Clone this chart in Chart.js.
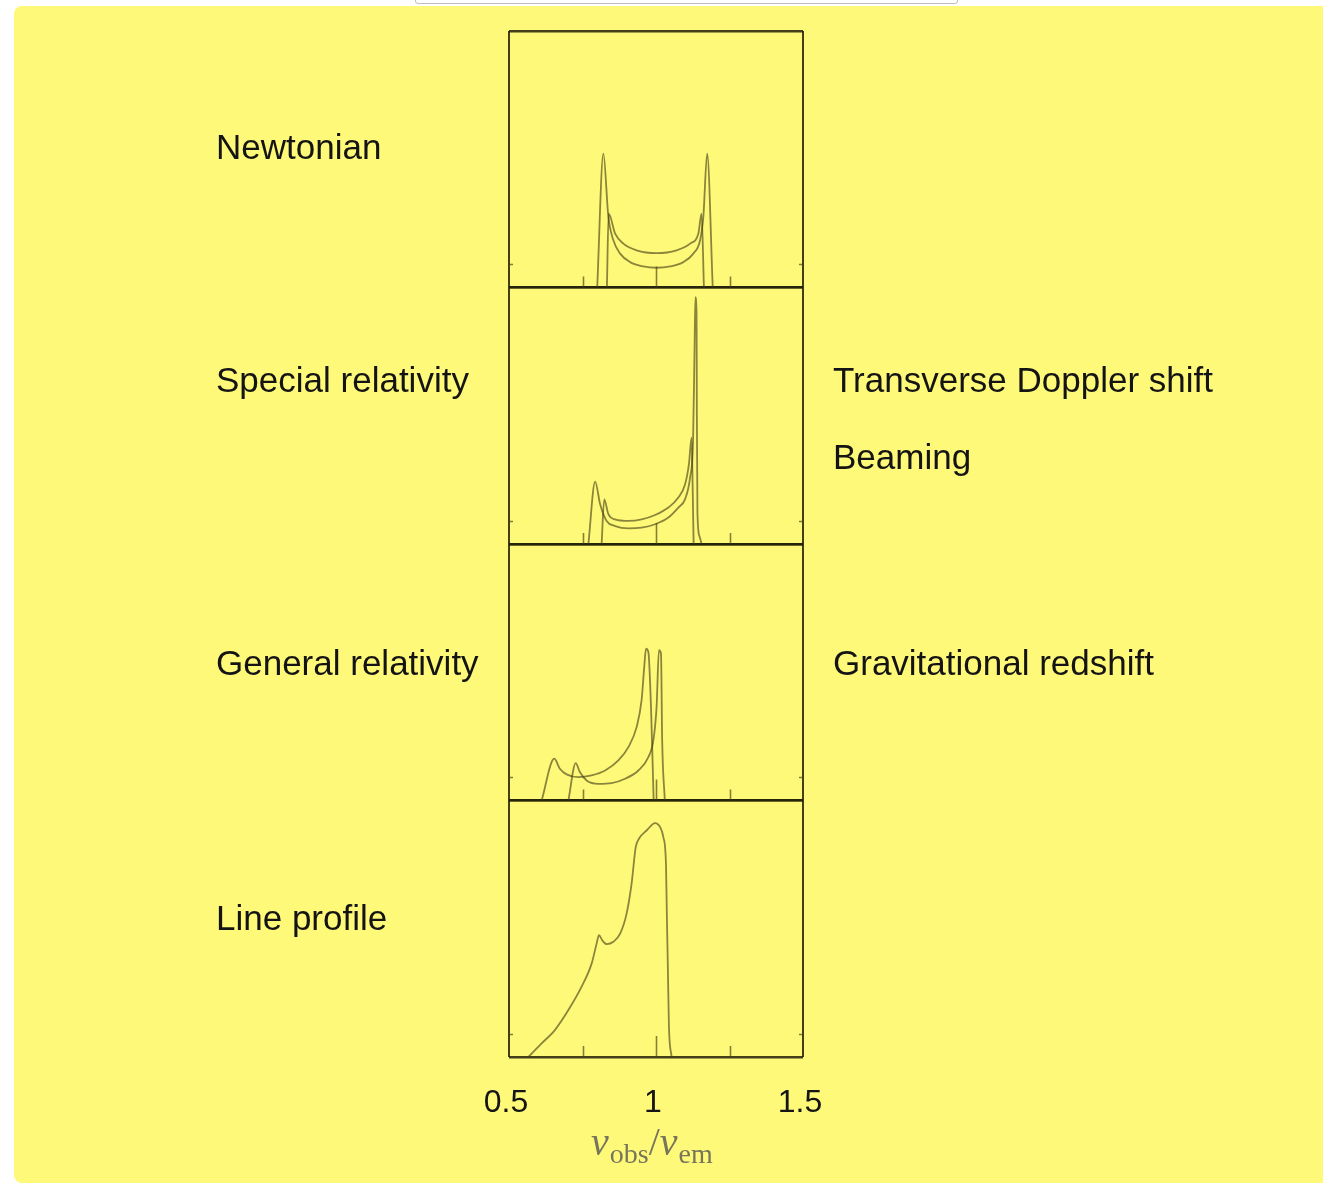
<!DOCTYPE html>
<html lang="en">
<head>
    <meta charset="UTF-8">
    <title>Disk line profiles</title>
    <script src="https://cdn.jsdelivr.net/npm/chart.js"></script>
    <style>
        * {
            box-sizing: border-box;
            margin: 0;
            padding: 0;
        }
        body {
            background: #ffffff;
            width: 1323px;
            height: 1186px;
            position: relative;
            overflow: hidden;
            font-family: 'Liberation Sans', Arial, sans-serif;
        }
        .sheet {
            position: absolute;
            left: 14px;
            top: 6px;
            width: 1309px;
            height: 1177px;
            background: #fff97a;
            border-radius: 8px 0 0 8px;
        }
        .tab {
            position: absolute;
            left: 415px;
            top: -8px;
            width: 543px;
            height: 12px;
            background: #fff;
            border: 1px solid #bdbdbd;
            border-radius: 3px;
        }
        #chart {
            position: absolute;
            left: 0;
            top: 0;
        }
        .label {
            position: absolute;
            font-size: 35px;
            line-height: 35px;
            color: #141414;
            white-space: nowrap;
        }
        .axis-title {
            position: absolute;
            left: 591px;
            top: 1122px;
            font-family: 'Liberation Serif', 'Times New Roman', serif;
            font-size: 40px;
            line-height: 40px;
            color: #77755a;
            white-space: nowrap;
        }
        .axis-title i { font-style: italic; }
        .axis-title .sub {
            font-size: 28px;
            position: relative;
            top: 8px;
            margin-left: 1px;
        }
    </style>
</head>
<body>
    <div class="sheet"></div>
    <div class="tab"></div>
    <canvas id="chart" width="1323" height="1186"></canvas>

    <div class="label" style="left:216px; top:129px">Newtonian</div>
    <div class="label" style="left:216px; top:362px">Special relativity</div>
    <div class="label" style="left:216px; top:645px">General relativity</div>
    <div class="label" style="left:216px; top:900px">Line profile</div>
    <div class="label" style="left:833px; top:362px">Transverse Doppler shift</div>
    <div class="label" style="left:833px; top:439px">Beaming</div>
    <div class="label" style="left:833px; top:645px">Gravitational redshift</div>

    <div class="axis-title"><i>ν</i><span class="sub">obs</span>/<i>ν</i><span class="sub">em</span></div>

    <script>
        // frequency ratio ticks
        const xTicks = [0.5, 1, 1.5];
        const innerTicks = [0.75, 1, 1.25];
        const sideTick = 0.09;

        // Newtonian: two rings, symmetric double horns
        const newtWideNu = [0.800, 0.821, 0.838, 0.855, 0.878, 0.912, 0.957, 1.002, 1.048, 1.093, 1.127, 1.150, 1.161, 1.174, 1.193];
        const newtWideI  = [0, 0.522, 0.275, 0.184, 0.132, 0.099, 0.082, 0.077, 0.082, 0.099, 0.132, 0.184, 0.275, 0.522, 0];
        const newtNarrowNu = [0.833, 0.839, 0.861, 0.889, 0.934, 1.002, 1.070, 1.116, 1.144, 1.155, 1.163];
        const newtNarrowI  = [0, 0.288, 0.210, 0.171, 0.145, 0.134, 0.145, 0.171, 0.210, 0.288, 0];

        // Special relativity: blue horn boosted, profile shifted red
        const srWideNu = [0.770, 0.793, 0.810, 0.832, 0.861, 0.906, 0.951, 0.997, 1.042, 1.076, 1.099, 1.116, 1.126, 1.131, 1.134, 1.138, 1.139, 1.141, 1.148, 1.155];
        const srWideI  = [0, 0.243, 0.155, 0.090, 0.070, 0.061, 0.064, 0.077, 0.103, 0.142, 0.175, 0.260, 0.400, 0.750, 0.962, 0.900, 0.500, 0.120, 0.030, 0];
        const srNarrowNu = [0.815, 0.824, 0.838, 0.861, 0.906, 0.951, 0.997, 1.042, 1.076, 1.099, 1.112, 1.121, 1.125, 1.128];
        const srNarrowI  = [0, 0.174, 0.116, 0.096, 0.090, 0.096, 0.113, 0.142, 0.181, 0.233, 0.311, 0.415, 0.200, 0];

        // General relativity: inner ring pulled further to the red
        const grInnerNu = [0.611, 0.654, 0.673, 0.696, 0.736, 0.781, 0.827, 0.872, 0.906, 0.934, 0.951, 0.960, 0.966, 0.974, 0.983, 0.992];
        const grInnerI  = [0, 0.163, 0.124, 0.102, 0.091, 0.098, 0.117, 0.156, 0.208, 0.286, 0.391, 0.521, 0.592, 0.579, 0.365, 0];
        const grOuterNu = [0.702, 0.727, 0.741, 0.764, 0.804, 0.849, 0.895, 0.940, 0.974, 0.991, 1.002, 1.010, 1.017, 1.021, 1.030];
        const grOuterI  = [0, 0.146, 0.111, 0.078, 0.065, 0.068, 0.085, 0.117, 0.169, 0.234, 0.365, 0.586, 0.573, 0.234, 0];

        // Integrated line profile of the whole disk
        const profileNu = [0.566, 0.611, 0.656, 0.702, 0.747, 0.781, 0.798, 0.806, 0.817, 0.832, 0.855, 0.878, 0.900, 0.917, 0.931, 0.942, 0.968, 0.997, 1.014, 1.025, 1.034, 1.037, 1.040, 1.044, 1.053];
        const profileI  = [0, 0.053, 0.105, 0.183, 0.274, 0.364, 0.442, 0.475, 0.455, 0.440, 0.449, 0.481, 0.559, 0.676, 0.818, 0.851, 0.883, 0.912, 0.896, 0.857, 0.750, 0.550, 0.370, 0.120, 0];

        const frameColour = 'rgba(34, 32, 8, 0.85)';
        const curveColour = 'rgba(66, 62, 20, 0.62)';
        const tickColour = 'rgba(66, 62, 20, 0.65)';

        const pts = (nu, val) => nu.map((x, i) => ({ x: x, y: val[i] }));

        // panels listed bottom to top (stacked axes are placed in reverse)
        const panelAxes = ['yProfile', 'yGeneral', 'ySpecial', 'yNewton'];

        const panelScale = () => ({
            type: 'linear',
            position: 'left',
            stack: 'panels',
            stackWeight: 1,
            min: 0,
            max: 1,
            afterBuildTicks: s => { s.ticks = [{ value: 0 }, { value: 1 }]; },
            afterFit: s => { s.width = 0; },
            ticks: { display: false },
            grid: { color: frameColour, lineWidth: 2.4, drawTicks: false },
            border: { display: false }
        });

        const scales = {
            x: {
                type: 'linear',
                min: 0.5,
                max: 1.5,
                afterBuildTicks: s => { s.ticks = xTicks.map(v => ({ value: v })); },
                afterFit: s => { s.height = 129; },
                ticks: {
                    callback: v => String(v),
                    color: '#151515',
                    padding: 27,
                    labelOffset: -3,
                    maxRotation: 0,
                    font: { family: "'Liberation Sans', Arial, sans-serif", size: 32 }
                },
                grid: {
                    color: ctx => ctx.tick && ctx.tick.value === 1 ? 'rgba(0,0,0,0)' : frameColour,
                    lineWidth: 2,
                    drawTicks: false
                },
                border: { display: false }
            }
        };
        panelAxes.forEach(id => { scales[id] = panelScale(); });

        // short inward ticks along the foot of each panel and on its sides
        const panelTicks = {
            id: 'panelTicks',
            afterDatasetsDraw(chart) {
                const { ctx, chartArea } = chart;
                const x = chart.scales.x;
                ctx.save();
                ctx.strokeStyle = tickColour;
                ctx.lineWidth = 1.6;
                panelAxes.forEach(id => {
                    const y = chart.scales[id];
                    const base = y.getPixelForValue(0);
                    innerTicks.forEach(v => {
                        const len = v === 1 ? 21 : 11;
                        const px = Math.round(x.getPixelForValue(v)) + 0.5;
                        ctx.beginPath();
                        ctx.moveTo(px, base);
                        ctx.lineTo(px, base - len);
                        ctx.stroke();
                    });
                    const sy = Math.round(y.getPixelForValue(sideTick)) + 0.5;
                    ctx.beginPath();
                    ctx.moveTo(chartArea.left, sy);
                    ctx.lineTo(chartArea.left + 4, sy);
                    ctx.moveTo(chartArea.right, sy);
                    ctx.lineTo(chartArea.right - 4, sy);
                    ctx.stroke();
                });
                ctx.restore();
            }
        };

        new Chart(document.getElementById('chart'), {
            type: 'line',
            data: {
                datasets: [
                    { data: pts(newtWideNu, newtWideI), yAxisID: 'yNewton' },
                    { data: pts(newtNarrowNu, newtNarrowI), yAxisID: 'yNewton' },
                    { data: pts(srWideNu, srWideI), yAxisID: 'ySpecial' },
                    { data: pts(srNarrowNu, srNarrowI), yAxisID: 'ySpecial' },
                    { data: pts(grInnerNu, grInnerI), yAxisID: 'yGeneral' },
                    { data: pts(grOuterNu, grOuterI), yAxisID: 'yGeneral' },
                    { data: pts(profileNu, profileI), yAxisID: 'yProfile' }
                ]
            },
            options: {
                responsive: false,
                animation: false,
                devicePixelRatio: 1,
                layout: { padding: { left: 509, right: 520, top: 31, bottom: 0 } },
                plugins: {
                    legend: { display: false },
                    tooltip: { enabled: false }
                },
                elements: {
                    point: { radius: 0 },
                    line: {
                        borderColor: curveColour,
                        borderWidth: 1.8,
                        cubicInterpolationMode: 'monotone',
                        fill: false
                    }
                },
                scales: scales
            },
            plugins: [panelTicks]
        });
    </script>
</body>
</html>
